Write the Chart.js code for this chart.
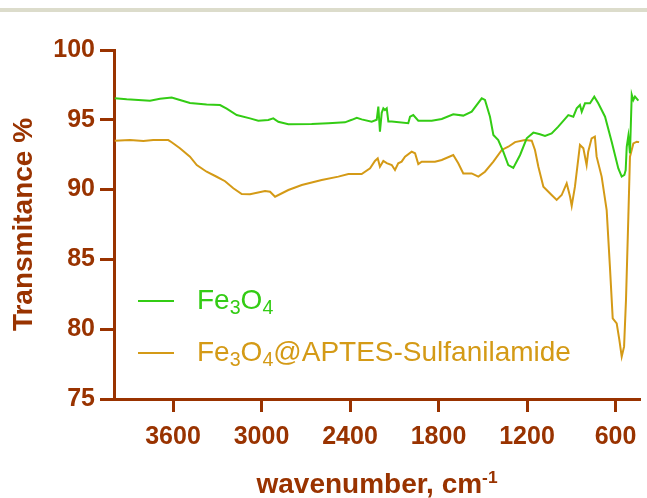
<!DOCTYPE html>
<html>
<head>
<meta charset="utf-8">
<script src="https://cdn.jsdelivr.net/npm/chart.js@4.4.1/dist/chart.umd.min.js"></script>
<style>
body { margin: 0; background: #fff; font-family: "Liberation Sans", Arial, sans-serif; }
#wrap { position: relative; width: 647px; height: 498px; overflow: hidden; }
#topline { position: absolute; left: 0; top: 8px; width: 647px; height: 4px; background: #dcdccb; }
#box { position: absolute; left: 0; top: 0; width: 647px; height: 498px; }
#xtitle { position: absolute; left: 114px; width: 526px; top: 470px; text-align: center; font-weight: bold;
  font-size: 28px; line-height: 28px; color: #993300; white-space: nowrap; }
#xtitle sup { font-size: 0.62em; vertical-align: 0.6em; line-height: 0; }
.leg { position: absolute; left: 138px; width: 500px; height: 30px; font-size: 28px; line-height: 28px; white-space: nowrap; }
.leg .ln { position: absolute; left: 0; width: 36px; height: 2px; }
.leg .tx { position: absolute; left: 59px; top: 0; }
.leg sub { font-size: 0.7em; vertical-align: -0.25em; line-height: 0; }
</style>
</head>
<body>
<div id="wrap">
  <div id="topline"></div>
  <div id="box"><canvas id="ftir"></canvas></div>
  <div id="xtitle">wavenumber, cm<sup>-1</sup></div>
  <div id="legend"></div>
</div>
<script>
// axis ticks
var wnTicks = [3600, 3000, 2400, 1800, 1200, 600];
var tTicks = [75, 80, 85, 90, 95, 100];

var seriesNames = ['Fe3O4', 'Fe3O4@APTES-Sulfanilamide'];
var seriesColors = ['#33cc14', '#d49a16'];

// Fe3O4
var feWn = [3995, 3914, 3756, 3688, 3609, 3553, 3485, 3372, 3281, 3236, 3168, 3078, 3022, 2954, 2920, 2886,
  2818, 2660, 2547, 2434, 2388, 2354, 2321, 2253, 2219, 2208, 2197, 2185, 2174, 2163, 2151, 2140, 2117,
  2005, 1993, 1971, 1937, 1846, 1778, 1700, 1632, 1575, 1507, 1485, 1451, 1428, 1395, 1361, 1327, 1293,
  1247, 1202, 1157, 1112, 1078, 1033, 988, 920, 886, 863, 841, 829, 807, 773, 744, 717, 671, 626, 581,
  558, 540, 531, 524, 513, 502, 490, 479, 468, 445];
var feT = [96.55, 96.47, 96.37, 96.5, 96.6, 96.42, 96.2, 96.1, 96.06, 95.8, 95.34, 95.1, 94.94, 94.99, 95.1, 94.86,
  94.68, 94.7, 94.75, 94.82, 95.0, 95.15, 95.03, 94.87, 95.0, 95.94, 94.15, 95.5, 95.82, 95.7, 95.82, 94.87, 94.87,
  94.75, 95.22, 95.34, 94.94, 94.94, 95.06, 95.39, 95.3, 95.58, 96.54, 96.42, 95.22, 93.91, 93.55, 92.72, 91.76, 91.55,
  92.48, 93.67, 94.08, 93.96, 93.84, 94.03, 94.51, 95.34, 95.22, 95.82, 96.06, 95.58, 96.18, 96.18, 96.66, 96.18, 95.22, 93.43, 91.52,
  90.93, 91.05, 91.4, 93.07, 93.85, 92.6, 96.8, 96.42, 96.66, 96.37];

// Fe3O4@APTES-Sulfanilamide
var apsWn = [3995, 3892, 3801, 3734, 3632, 3609, 3553, 3485, 3439, 3372, 3304, 3247, 3191, 3134, 3078, 2976,
  2942, 2908, 2818, 2727, 2592, 2479, 2411, 2321, 2264, 2231, 2212, 2197, 2174, 2151, 2117, 2095, 2073,
  2050, 2027, 1982, 1959, 1937, 1914, 1824, 1778, 1700, 1666, 1632, 1575, 1530, 1485, 1428, 1371, 1327,
  1281, 1214, 1168, 1146, 1123, 1089, 1033, 999, 965, 931, 908, 897, 875, 841, 818, 796, 785, 762, 740,
  728, 694, 660, 638, 619, 592, 574, 558, 542, 529, 513, 502, 479, 456, 440];
var apsT = [93.5, 93.55, 93.48, 93.55, 93.55, 93.39, 92.96, 92.36, 91.76, 91.28, 90.92, 90.6, 90.1, 89.68, 89.66, 89.9,
  89.85, 89.49, 89.97, 90.33, 90.69, 90.93, 91.12, 91.12, 91.52, 92.05, 92.24, 91.64, 92.05, 91.9, 91.76, 91.4, 91.88,
  92.0, 92.36, 92.72, 92.6, 91.83, 92.0, 92.0, 92.12, 92.48, 91.88, 91.16, 91.16, 90.93, 91.28, 92.0, 92.84, 93.07,
  93.4, 93.55, 93.5, 92.84, 91.64, 90.21, 89.61, 89.26, 89.61, 90.45, 89.49, 88.83, 90.21, 93.2, 92.96, 91.76, 92.72, 93.67, 93.79,
  92.36, 90.93, 88.54, 84.48, 80.78, 80.42, 79.23, 78.03, 78.75, 82.09, 88.06, 92.36, 93.31, 93.43, 93.4];

var axisColor = '#993300';
var fontFam = '"Liberation Sans", Arial, sans-serif';

function pts(xs, ys) {
    return xs.map(function(x, i) { return { x: x, y: ys[i] }; });
}

var ctx = document.getElementById('ftir').getContext('2d');
var myChart = new Chart(ctx, {
    type: 'line',
    data: {
        datasets: [{
            label: seriesNames[0],
            data: pts(feWn, feT),
            borderColor: seriesColors[0],
            borderWidth: 2,
            pointRadius: 0,
            tension: 0
        }, {
            label: seriesNames[1],
            data: pts(apsWn, apsT),
            borderColor: seriesColors[1],
            borderWidth: 2,
            pointRadius: 0,
            tension: 0
        }]
    },
    options: {
        responsive: true,
        maintainAspectRatio: false,
        animation: false,
        layout: { padding: { top: 50, right: 7, left: 0, bottom: 0 } },
        plugins: { legend: { display: false }, tooltip: { enabled: false } },
        scales: {
            x: {
                type: 'linear',
                reverse: true,
                min: 434,
                max: 4000,
                afterBuildTicks: function(s) { s.ticks = wnTicks.map(function(v) { return { value: v }; }); },
                afterFit: function(s) { s.height = 99; },
                border: { color: axisColor, width: 3 },
                grid: { display: true, drawOnChartArea: false, drawTicks: true, tickLength: 13, tickWidth: 3, color: axisColor },
                ticks: {
                    color: axisColor, padding: 10, maxRotation: 0,
                    font: { family: fontFam, size: 25, weight: 'bold' },
                    callback: function(v) { return String(v); }
                }
            },
            y: {
                min: 75,
                max: 100,
                afterBuildTicks: function(s) { s.ticks = tTicks.map(function(v) { return { value: v }; }); },
                afterFit: function(s) { s.width = 114; },
                border: { color: axisColor, width: 3 },
                grid: { display: true, drawOnChartArea: false, drawTicks: true, tickLength: 14, tickWidth: 3, color: axisColor },
                ticks: {
                    color: axisColor, padding: 5,
                    font: { family: fontFam, size: 25, weight: 'bold' },
                    callback: function(v) { return String(v); }
                },
                title: {
                    display: true,
                    text: 'Transmitance %',
                    color: axisColor,
                    padding: { top: 7, bottom: 0 },
                    font: { family: fontFam, size: 28, weight: 'bold' }
                }
            }
        }
    }
});

// legend with subscripts, built from the chart's datasets
var legendTops = [286, 338];
var legendLineY = [301, 353];
var leg = document.getElementById('legend');
myChart.data.datasets.forEach(function(ds, i) {
    var d = document.createElement('div');
    d.className = 'leg';
    d.style.top = legendTops[i] + 'px';
    d.style.color = ds.borderColor;
    var ln = document.createElement('span');
    ln.className = 'ln';
    ln.style.top = (legendLineY[i] - legendTops[i] - 1) + 'px';
    ln.style.background = ds.borderColor;
    var tx = document.createElement('span');
    tx.className = 'tx';
    tx.innerHTML = ds.label.replace(/([A-Za-z])(\d)/g, '$1<sub>$2</sub>');
    d.appendChild(ln);
    d.appendChild(tx);
    leg.appendChild(d);
});
</script>
</body>
</html>
